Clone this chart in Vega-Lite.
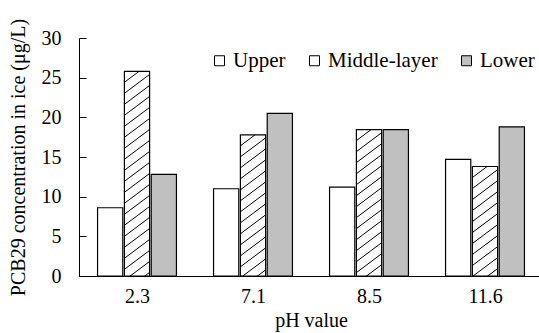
{
  "$schema": "https://vega.github.io/schema/vega-lite/v6.json",
  "width": 460,
  "height": 238,
  "autosize": {"type": "none"},
  "padding": {"left": 79, "top": 38, "right": 0, "bottom": 57},
  "background": "white",
  "config": {
    "font": "Liberation Serif, DejaVu Serif, serif",
    "view": {"stroke": null},
    "axis": {
      "labelFont": "Liberation Serif, DejaVu Serif, serif",
      "titleFont": "Liberation Serif, DejaVu Serif, serif",
      "labelFontSize": 20,
      "titleFontSize": 20,
      "titleFontWeight": "normal",
      "labelColor": "black",
      "titleColor": "black",
      "domainColor": "black",
      "tickColor": "black",
      "grid": false
    }
  },
  "data": {
    "values": [
      {"pH": "2.3", "series": "Upper", "value": 8.6},
      {"pH": "2.3", "series": "Middle-layer", "value": 25.8},
      {"pH": "2.3", "series": "Lower", "value": 12.8},
      {"pH": "7.1", "series": "Upper", "value": 11.0},
      {"pH": "7.1", "series": "Middle-layer", "value": 17.8},
      {"pH": "7.1", "series": "Lower", "value": 20.5},
      {"pH": "8.5", "series": "Upper", "value": 11.2},
      {"pH": "8.5", "series": "Middle-layer", "value": 18.45},
      {"pH": "8.5", "series": "Lower", "value": 18.45},
      {"pH": "11.6", "series": "Upper", "value": 14.7},
      {"pH": "11.6", "series": "Middle-layer", "value": 13.8},
      {"pH": "11.6", "series": "Lower", "value": 18.8}
    ]
  },
  "mark": {"type": "bar", "stroke": "black", "strokeWidth": 1.2},
  "encoding": {
    "x": {
      "field": "pH",
      "type": "nominal",
      "sort": ["2.3", "7.1", "8.5", "11.6"],
      "scale": {"paddingInner": 0.32, "paddingOuter": 0.16, "range": [0, 464]},
      "axis": {
        "title": "pH value",
        "labelAngle": 0,
        "tickBand": "extent",
        "tickSize": -6,
        "labelPadding": 16,
        "titlePadding": 4
      }
    },
    "xOffset": {
      "field": "series",
      "type": "nominal",
      "sort": ["Upper", "Middle-layer", "Lower"],
      "scale": {"paddingInner": 0.06, "paddingOuter": 0}
    },
    "y": {
      "field": "value",
      "type": "quantitative",
      "scale": {"domain": [0, 30], "nice": false},
      "axis": {
        "title": "PCB29 concentration in ice (μg/L)",
        "values": [0, 5, 10, 15, 20, 25, 30],
        "tickSize": -7,
        "labelPadding": 25,
        "titlePadding": 13
      }
    },
    "fill": {
      "field": "series",
      "type": "nominal",
      "scale": {"domain": ["Upper", "Middle-layer", "Lower"], "range": ["white", "white", "#c0c0c0"]},
      "legend": {
        "title": null,
        "orient": "none",
        "legendX": 130,
        "legendY": 12,
        "direction": "horizontal",
        "symbolType": "square",
        "symbolSize": 100,
        "symbolStrokeColor": "black",
        "symbolStrokeWidth": 1,
        "labelFont": "Liberation Serif, DejaVu Serif, serif",
        "labelFontSize": 21,
        "labelColor": "black",
        "labelOffset": 3,
        "columnPadding": 18,
        "padding": 0
      },
      "condition": [
        {"test": "datum.series === 'Middle-layer' && datum.pH === '2.3'", "value": {"gradient": "linear", "x1": 0, "y1": 0, "x2": 0.1, "y2": 1.0831, "stops": [
          {"offset": 0, "color": "white"},
          {"offset": 0.0447, "color": "white"}, {"offset": 0.0492, "color": "black"}, {"offset": 0.0537, "color": "white"},
          {"offset": 0.0939, "color": "white"}, {"offset": 0.0984, "color": "black"}, {"offset": 0.1029, "color": "white"},
          {"offset": 0.1431, "color": "white"}, {"offset": 0.1476, "color": "black"}, {"offset": 0.1521, "color": "white"},
          {"offset": 0.1923, "color": "white"}, {"offset": 0.1968, "color": "black"}, {"offset": 0.2013, "color": "white"},
          {"offset": 0.2415, "color": "white"}, {"offset": 0.246, "color": "black"}, {"offset": 0.2505, "color": "white"},
          {"offset": 0.2907, "color": "white"}, {"offset": 0.2952, "color": "black"}, {"offset": 0.2997, "color": "white"},
          {"offset": 0.3399, "color": "white"}, {"offset": 0.3444, "color": "black"}, {"offset": 0.3489, "color": "white"},
          {"offset": 0.3891, "color": "white"}, {"offset": 0.3936, "color": "black"}, {"offset": 0.3981, "color": "white"},
          {"offset": 0.4383, "color": "white"}, {"offset": 0.4428, "color": "black"}, {"offset": 0.4473, "color": "white"},
          {"offset": 0.4875, "color": "white"}, {"offset": 0.492, "color": "black"}, {"offset": 0.4965, "color": "white"},
          {"offset": 0.5367, "color": "white"}, {"offset": 0.5412, "color": "black"}, {"offset": 0.5457, "color": "white"},
          {"offset": 0.5859, "color": "white"}, {"offset": 0.5904, "color": "black"}, {"offset": 0.5949, "color": "white"},
          {"offset": 0.6351, "color": "white"}, {"offset": 0.6396, "color": "black"}, {"offset": 0.6441, "color": "white"},
          {"offset": 0.6843, "color": "white"}, {"offset": 0.6888, "color": "black"}, {"offset": 0.6933, "color": "white"},
          {"offset": 0.7335, "color": "white"}, {"offset": 0.738, "color": "black"}, {"offset": 0.7425, "color": "white"},
          {"offset": 0.7827, "color": "white"}, {"offset": 0.7872, "color": "black"}, {"offset": 0.7917, "color": "white"},
          {"offset": 0.8319, "color": "white"}, {"offset": 0.8364, "color": "black"}, {"offset": 0.8409, "color": "white"},
          {"offset": 0.8811, "color": "white"}, {"offset": 0.8856, "color": "black"}, {"offset": 0.8901, "color": "white"},
          {"offset": 0.9303, "color": "white"}, {"offset": 0.9348, "color": "black"}, {"offset": 0.9393, "color": "white"},
          {"offset": 0.9795, "color": "white"}, {"offset": 0.984, "color": "black"}, {"offset": 0.9885, "color": "white"},
          {"offset": 1, "color": "white"}
        ]}},
        {"test": "datum.series === 'Middle-layer' && datum.pH === '7.1'", "value": {"gradient": "linear", "x1": 0, "y1": 0, "x2": 0.1491, "y2": 1.1139, "stops": [
          {"offset": 0, "color": "white"},
          {"offset": 0.0625, "color": "white"}, {"offset": 0.0687, "color": "black"}, {"offset": 0.0749, "color": "white"},
          {"offset": 0.1312, "color": "white"}, {"offset": 0.1374, "color": "black"}, {"offset": 0.1436, "color": "white"},
          {"offset": 0.1999, "color": "white"}, {"offset": 0.2061, "color": "black"}, {"offset": 0.2123, "color": "white"},
          {"offset": 0.2686, "color": "white"}, {"offset": 0.2748, "color": "black"}, {"offset": 0.281, "color": "white"},
          {"offset": 0.3373, "color": "white"}, {"offset": 0.3435, "color": "black"}, {"offset": 0.3497, "color": "white"},
          {"offset": 0.406, "color": "white"}, {"offset": 0.4122, "color": "black"}, {"offset": 0.4184, "color": "white"},
          {"offset": 0.4747, "color": "white"}, {"offset": 0.4809, "color": "black"}, {"offset": 0.4871, "color": "white"},
          {"offset": 0.5434, "color": "white"}, {"offset": 0.5496, "color": "black"}, {"offset": 0.5558, "color": "white"},
          {"offset": 0.6121, "color": "white"}, {"offset": 0.6183, "color": "black"}, {"offset": 0.6245, "color": "white"},
          {"offset": 0.6809, "color": "white"}, {"offset": 0.6871, "color": "black"}, {"offset": 0.6933, "color": "white"},
          {"offset": 0.7496, "color": "white"}, {"offset": 0.7558, "color": "black"}, {"offset": 0.762, "color": "white"},
          {"offset": 0.8183, "color": "white"}, {"offset": 0.8245, "color": "black"}, {"offset": 0.8307, "color": "white"},
          {"offset": 0.887, "color": "white"}, {"offset": 0.8932, "color": "black"}, {"offset": 0.8994, "color": "white"},
          {"offset": 0.9557, "color": "white"}, {"offset": 0.9619, "color": "black"}, {"offset": 0.9681, "color": "white"},
          {"offset": 1, "color": "white"}
        ]}},
        {"test": "datum.series === 'Middle-layer' && datum.pH === '8.5'", "value": {"gradient": "linear", "x1": 0, "y1": 0, "x2": 0.1434, "y2": 1.1106, "stops": [
          {"offset": 0, "color": "white"},
          {"offset": 0.0605, "color": "white"}, {"offset": 0.0665, "color": "black"}, {"offset": 0.0725, "color": "white"},
          {"offset": 0.1271, "color": "white"}, {"offset": 0.1331, "color": "black"}, {"offset": 0.1391, "color": "white"},
          {"offset": 0.1936, "color": "white"}, {"offset": 0.1996, "color": "black"}, {"offset": 0.2056, "color": "white"},
          {"offset": 0.2602, "color": "white"}, {"offset": 0.2662, "color": "black"}, {"offset": 0.2722, "color": "white"},
          {"offset": 0.3267, "color": "white"}, {"offset": 0.3327, "color": "black"}, {"offset": 0.3387, "color": "white"},
          {"offset": 0.3933, "color": "white"}, {"offset": 0.3993, "color": "black"}, {"offset": 0.4053, "color": "white"},
          {"offset": 0.4598, "color": "white"}, {"offset": 0.4658, "color": "black"}, {"offset": 0.4718, "color": "white"},
          {"offset": 0.5264, "color": "white"}, {"offset": 0.5324, "color": "black"}, {"offset": 0.5384, "color": "white"},
          {"offset": 0.5929, "color": "white"}, {"offset": 0.5989, "color": "black"}, {"offset": 0.6049, "color": "white"},
          {"offset": 0.6595, "color": "white"}, {"offset": 0.6655, "color": "black"}, {"offset": 0.6715, "color": "white"},
          {"offset": 0.726, "color": "white"}, {"offset": 0.732, "color": "black"}, {"offset": 0.738, "color": "white"},
          {"offset": 0.7926, "color": "white"}, {"offset": 0.7986, "color": "black"}, {"offset": 0.8046, "color": "white"},
          {"offset": 0.8591, "color": "white"}, {"offset": 0.8651, "color": "black"}, {"offset": 0.8711, "color": "white"},
          {"offset": 0.9256, "color": "white"}, {"offset": 0.9316, "color": "black"}, {"offset": 0.9376, "color": "white"},
          {"offset": 1, "color": "white"}
        ]}},
        {"test": "datum.series === 'Middle-layer' && datum.pH === '11.6'", "value": {"gradient": "linear", "x1": 0, "y1": 0, "x2": 0.1965, "y2": 1.1387, "stops": [
          {"offset": 0, "color": "white"},
          {"offset": 0.0779, "color": "white"}, {"offset": 0.0857, "color": "black"}, {"offset": 0.0935, "color": "white"},
          {"offset": 0.1635, "color": "white"}, {"offset": 0.1713, "color": "black"}, {"offset": 0.1791, "color": "white"},
          {"offset": 0.2492, "color": "white"}, {"offset": 0.257, "color": "black"}, {"offset": 0.2648, "color": "white"},
          {"offset": 0.3349, "color": "white"}, {"offset": 0.3427, "color": "black"}, {"offset": 0.3505, "color": "white"},
          {"offset": 0.4205, "color": "white"}, {"offset": 0.4283, "color": "black"}, {"offset": 0.4361, "color": "white"},
          {"offset": 0.5062, "color": "white"}, {"offset": 0.514, "color": "black"}, {"offset": 0.5218, "color": "white"},
          {"offset": 0.5919, "color": "white"}, {"offset": 0.5997, "color": "black"}, {"offset": 0.6075, "color": "white"},
          {"offset": 0.6776, "color": "white"}, {"offset": 0.6854, "color": "black"}, {"offset": 0.6932, "color": "white"},
          {"offset": 0.7632, "color": "white"}, {"offset": 0.771, "color": "black"}, {"offset": 0.7788, "color": "white"},
          {"offset": 0.8489, "color": "white"}, {"offset": 0.8567, "color": "black"}, {"offset": 0.8645, "color": "white"},
          {"offset": 0.9346, "color": "white"}, {"offset": 0.9424, "color": "black"}, {"offset": 0.9502, "color": "white"},
          {"offset": 1, "color": "white"}
        ]}}
      ]
    }
  }
}
